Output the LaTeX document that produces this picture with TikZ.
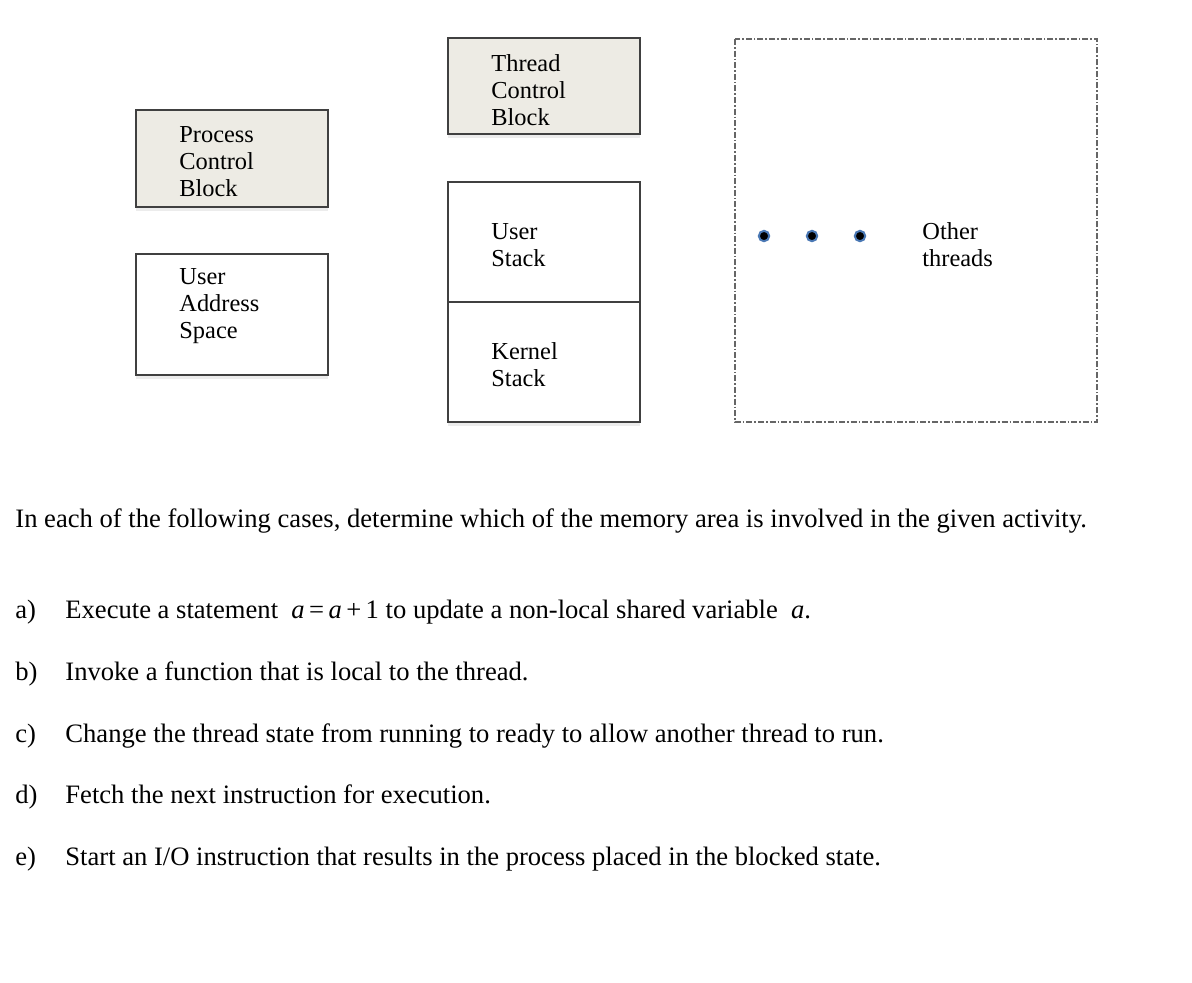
\documentclass[tikz,border=0pt]{standalone}
\usepackage{fontspec}
\setmainfont{Liberation Serif}
\usetikzlibrary{shadows}
\definecolor{beige}{HTML}{EDEBE4}
\definecolor{ringblue}{HTML}{4A78B4}
\tikzset{
  blk/.style={draw=black!75, line width=0.6pt},
  shd/.style={drop shadow={opacity=0.15, shadow xshift=0pt, shadow yshift=-2pt}},
  lbl/.style={anchor=west, align=left, inner sep=0pt, font=\fontsize{12.2pt}{13.5pt}\selectfont},
  dotnode/.style={circle, fill=black, draw=ringblue, line width=1pt, minimum size=5.2pt, inner sep=0pt},
  body/.style={anchor=base west, inner sep=0pt, font=\fontsize{13.3pt}{15pt}\selectfont},
}
\begin{document}
\begin{tikzpicture}[x=0.5pt,y=-0.5pt]
\useasboundingbox (0,0) rectangle (1192,982);
\fill[white] (0,0) rectangle (1192,982);
% boxes
\draw[blk, fill=beige, shd] (136,110) rectangle (328,207);
\node[lbl] (pcb) at (179,162) {Process\\Control\\Block};
\draw[blk, fill=white, shd] (136,254) rectangle (328,375);
\node[lbl] (uas) at (179,306) {User\\Address\\Space};
\draw[blk, fill=beige, shd] (448,38) rectangle (640,134);
\node[lbl] (tcb) at (491,90) {Thread\\Control\\Block};
\draw[blk, fill=white, shd] (448,182) rectangle (640,302);
\node[lbl] (us) at (491,245) {User\\Stack};
\draw[blk, fill=white, shd] (448,302) rectangle (640,422);
\node[lbl] (ks) at (491,365) {Kernel\\Stack};
% other threads
\draw[black!60, line width=0.6pt, dash pattern=on 3pt off 1pt on 0.8pt off 1pt] (735,39) rectangle (1097,422);
\node[dotnode] (d1) at (764,236) {};
\node[dotnode] (d2) at (812,236) {};
\node[dotnode] (d3) at (860,236) {};
\node[lbl] (ot) at (922,245) {Other\\threads};
% text
\node[body] (q) at (15,527) {In each of the following cases, determine which of the memory area is involved in the given activity.};
\node[body] (la) at (15,618) {a)};
\node[body] (ta) at (65,618) {Execute a statement \ {\itshape a}\,=\,{\itshape a}\,+\,1 to update a non-local shared variable \ {\itshape a}.};
\node[body] (lb) at (15,680) {b)};
\node[body] (tb) at (65,680) {Invoke a function that is local to the thread.};
\node[body] (lc) at (15,742) {c)};
\node[body] (tc) at (65,742) {Change the thread state from running to ready to allow another thread to run.};
\node[body] (ld) at (15,803) {d)};
\node[body] (td) at (65,803) {Fetch the next instruction for execution.};
\node[body] (le) at (15,865) {e)};
\node[body] (te) at (65,865) {Start an I/O instruction that results in the process placed in the blocked state.};
\end{tikzpicture}
\end{document}
